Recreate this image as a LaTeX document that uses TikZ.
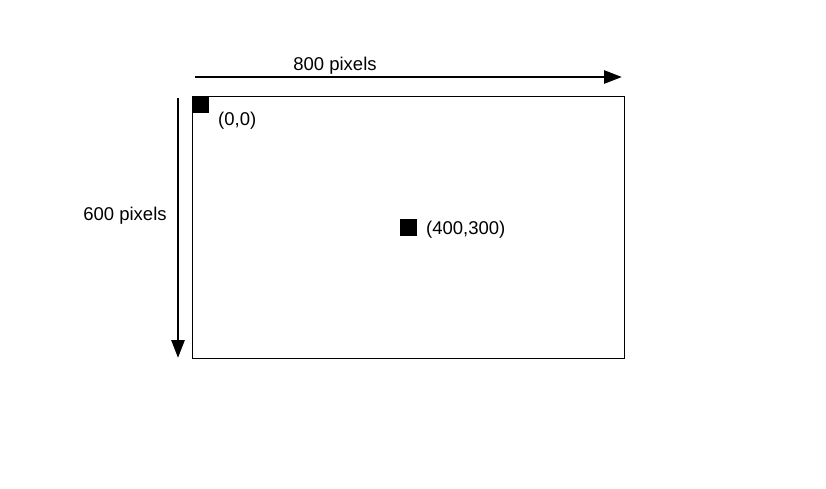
\documentclass[tikz,border=0pt]{standalone}
\usepackage{fontspec}
\setmainfont{Liberation Sans}
\usetikzlibrary{arrows.meta}
\begin{document}
\begin{tikzpicture}[x=1pt,y=-1pt,
  lbl/.style={font=\fontsize{18.5}{20}\selectfont, inner sep=0pt},
  dimarrow/.style={line width=2.8pt, -{Triangle[length=18pt,width=13pt]}},
  marker/.style={fill=black, draw=none, minimum size=17pt, inner sep=0pt},
  frame/.style={draw=black, line width=1pt}]
\useasboundingbox[fill=white] (0,0) rectangle (826,488);
\draw[frame] (192,96) rectangle (624,358);
\node[marker, anchor=north west] (origin) at (192,96) {};
\node[marker] (center) at (408.5,227.5) {};
\node[lbl, anchor=west] (originlbl) at (218,121) {(0,0)};
\node[lbl, anchor=west] (centerlbl) at (426,230) {(400,300)};
\coordinate (hstart) at (195,77);
\coordinate (hend) at (622,77);
\coordinate (vstart) at (178,98);
\coordinate (vend) at (178,358);
\draw[dimarrow] (hstart) -- (hend);
\draw[dimarrow] (vstart) -- (vend);
\node[lbl] (wlbl) at (335,66) {800 pixels};
\node[lbl] (hlbl) at (125,216) {600 pixels};
\end{tikzpicture}
\end{document}
